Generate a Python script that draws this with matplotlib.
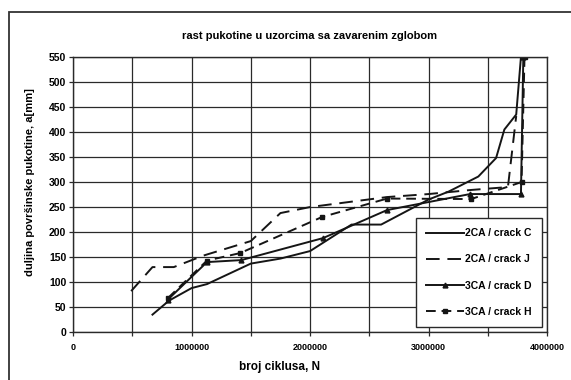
import matplotlib.pyplot as plt
from matplotlib.patches import Rectangle
from matplotlib.ticker import MultipleLocator, FuncFormatter

plt.rcParams['font.family'] = ['Liberation Sans', 'DejaVu Sans']
plt.rcParams['font.weight'] = 'bold'

# 2CA / crack C
c_x = [670000, 810000, 1000000, 1130000, 1500000, 1750000, 2000000, 2350000, 2600000,
       3000000, 3170000, 3420000, 3570000, 3640000, 3740000, 3780000]
c_y = [35, 63, 88, 96, 137, 147, 162, 215, 215, 265, 281, 311, 348, 405, 435, 550]

# 2CA / crack J
j_x = [490000, 670000, 850000, 1100000, 1500000, 1750000, 2000000, 2650000, 3000000,
       3350000, 3670000, 3740000]
j_y = [82, 130, 130, 153, 182, 238, 250, 270, 276, 284, 290, 432]

# 3CA / crack D
d_x = [800000, 1130000, 1420000, 2110000, 2650000, 3350000, 3780000, 3800000]
d_y = [65, 140, 144, 188, 244, 276, 276, 550]

# 3CA / crack H
h_x = [800000, 1130000, 1410000, 2100000, 2650000, 3360000, 3785000, 3810000]
h_y = [68, 143, 158, 230, 267, 266, 300, 550]

fig = plt.figure(figsize=(5.71, 3.80), dpi=100)
ax = fig.add_axes([0.128, 0.126, 0.830, 0.724])

ink = '#151515'
ax.plot(c_x, c_y, color=ink, lw=1.4, label='2CA / crack C')
ax.plot(j_x, j_y, color=ink, lw=1.4, dashes=(7, 4), label='2CA / crack J')
ax.plot(d_x, d_y, color=ink, lw=1.4, marker='^', ms=3.5, label='3CA / crack D')
ax.plot(h_x, h_y, color=ink, lw=1.4, dashes=(5, 3), marker='s', ms=3.5,
        label='3CA / crack H')

ax.set_xlim(0, 4000000)
ax.set_ylim(0, 550)
ax.xaxis.set_major_locator(MultipleLocator(1000000))
ax.xaxis.set_minor_locator(MultipleLocator(500000))
ax.yaxis.set_major_locator(MultipleLocator(50))
ax.xaxis.set_major_formatter(FuncFormatter(lambda v, p: '%d' % v))
ax.grid(True, which='both', color='#2a2a2a', lw=0.9)
ax.set_axisbelow(True)
ax.tick_params(axis='x', which='both', direction='out', length=3, width=0.9,
               labelsize=6.5, pad=5, color='#2a2a2a')
ax.tick_params(axis='y', direction='out', length=3, width=0.9, labelsize=7.5,
               pad=2, color='#2a2a2a')
for s in ax.spines.values():
    s.set_color('#2a2a2a')
    s.set_linewidth(1.0)

fig.text(0.543, 0.905, 'rast pukotine u uzorcima sa zavarenim zglobom',
         ha='center', va='center', fontsize=8, fontweight='bold')
fig.text(0.052, 0.52, 'duljina površinske pukotine, a[mm]', rotation=90,
         ha='center', va='center', fontsize=8, fontweight='bold')
fig.text(0.49, 0.034, 'broj ciklusa, N', ha='center', va='center',
         fontsize=8.5, fontweight='bold')

leg = ax.legend(loc='lower right', bbox_to_anchor=(0.989, 0.018), fontsize=7.5,
                frameon=True, fancybox=False, edgecolor='#2a2a2a',
                framealpha=1, handlelength=3.6, handletextpad=0.1,
                labelspacing=1.55, borderpad=1.0, borderaxespad=0)
leg.get_frame().set_linewidth(1.0)

fig.patches.append(Rectangle((9 / 571, -0.2), 1.2, 1.2 - 12 / 380 + 0.0,
                             transform=fig.transFigure, fill=False,
                             edgecolor='#333333', lw=1.3))

fig.savefig('out.png', dpi=100)
